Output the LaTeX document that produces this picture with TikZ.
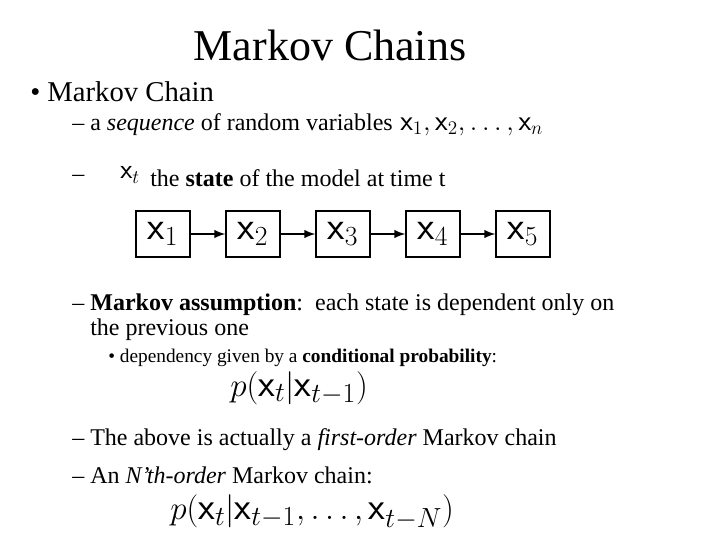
\documentclass[tikz,border=0pt]{standalone}
\usepackage{fontspec}
\setmainfont{Liberation Serif}
\begin{document}
\begin{tikzpicture}[x=0.75pt,y=-0.75pt,
  txt/.style={anchor=west,inner sep=0pt},
  st/.style={draw,line width=1.5pt,minimum width=40pt,minimum height=34pt,inner sep=0pt,font=\fontsize{30}{30}\selectfont},
  arr/.style={-latex,line width=1.8pt}]
\useasboundingbox (0,0) rectangle (720,540);
\node (title) at (330,45) {\fontsize{33}{33}\selectfont Markov Chains};
\node[txt] (b1) at (30,92) {\fontsize{21.5}{21.5}\selectfont • Markov Chain};
\node[txt] (d1) at (72,125) {\fontsize{18}{18}\selectfont – a \textit{sequence} of random variables};
\node[txt] (m1) at (400,127) {\fontsize{22}{22}\selectfont $\mathsf{x}_1,\mathsf{x}_2,\ldots,\mathsf{x}_n$};
\node[txt] (d2) at (72,178) {\fontsize{18}{18}\selectfont –};
\node[txt] (m2) at (120,175) {\fontsize{21}{21}\selectfont $\mathsf{x}_t$};
\node[txt] (d2b) at (150,178) {\fontsize{18}{18}\selectfont the \textbf{state} of the model at time t};
\foreach \i/\x in {1/163,2/253,3/343,4/433,5/523}{
  \node[st] (s\i) at (\x,234) {$\mathsf{x}_{\i}$};}
\foreach \a/\b in {1/2,2/3,3/4,4/5}{\draw[arr] (s\a) -- (s\b);}
\node[txt] (d3) at (72,305) {\fontsize{18}{18}\selectfont – \textbf{Markov assumption}:\ \ each state is dependent only on};
\node[txt] (d3b) at (90,330) {\fontsize{18}{18}\selectfont the previous one};
\node[txt] (b2) at (108,358) {\fontsize{14.5}{14.5}\selectfont • dependency given by a \textbf{conditional probability}:};
\node[txt] (f1) at (230,388) {\fontsize{29}{29}\selectfont $p(\mathsf{x}_t|\mathsf{x}_{t-1})$};
\node[txt] (d4) at (72,440) {\fontsize{18}{18}\selectfont – The above is actually a \textit{first-order} Markov chain};
\node[txt] (d5) at (72,475) {\fontsize{18}{18}\selectfont – An \textit{N'th-order} Markov chain:};
\node[txt] (f2) at (170,512) {\fontsize{29}{29}\selectfont $p(\mathsf{x}_t|\mathsf{x}_{t-1},\ldots,\mathsf{x}_{t-N})$};
\end{tikzpicture}
\end{document}
